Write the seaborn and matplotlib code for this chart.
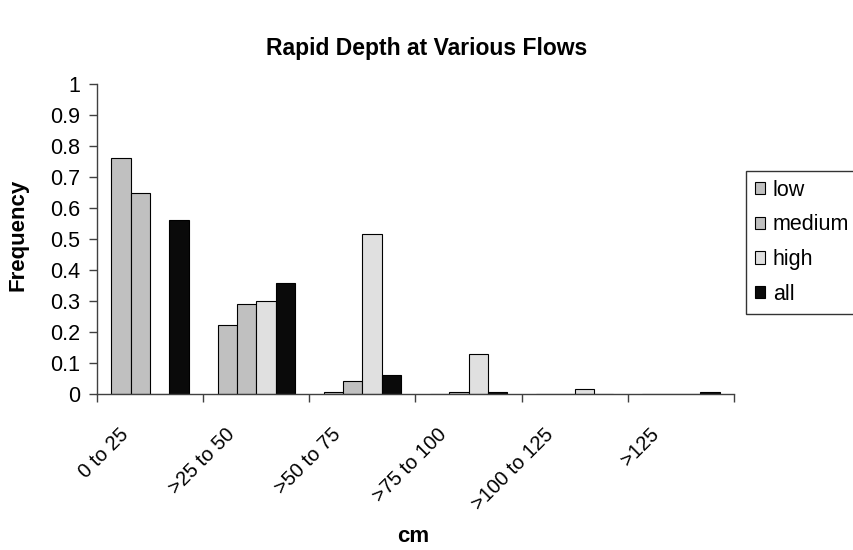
import matplotlib
matplotlib.use("Agg")
import matplotlib.pyplot as plt
import matplotlib.transforms as mtransforms
from matplotlib.patches import Patch
import seaborn as sns
import pandas as pd

# data
rangos = ["0 to 25", ">25 to 50", ">50 to 75", ">75 to 100", ">100 to 125", ">125"]
flujos = ["low", "medium", "high", "all"]
low = [0.76, 0.222, 0.008, 0.0, 0.0, 0.0]
medium = [0.647, 0.29, 0.041, 0.008, 0.0, 0.0]
high = [0.0, 0.301, 0.516, 0.128, 0.015, 0.0]
todos = [0.561, 0.357, 0.062, 0.008, 0.0, 0.008]
colores = ["#c0c0c0", "#c0c0c0", "#e0e0e0", "#0a0a0a"]

filas = []
for flujo, valores in zip(flujos, [low, medium, high, todos]):
    for r, v in zip(rangos, valores):
        filas.append({"rango": r, "flujo": flujo, "freq": v})
df = pd.DataFrame(filas)

sns.set_style("white")
plt.rcParams["font.family"] = ["Liberation Sans", "DejaVu Sans"]
plt.rcParams["text.color"] = "black"
plt.rcParams["xtick.color"] = "black"
plt.rcParams["ytick.color"] = "black"

fig = plt.figure(figsize=(8.54, 5.5), dpi=100)
ax = fig.add_axes([97 / 854, 1 - 394 / 550, 637 / 854, 310 / 550])

sns.barplot(data=df, x="rango", y="freq", hue="flujo", order=rangos, hue_order=flujos,
            palette=colores, width=0.727, edgecolor="black", linewidth=0.8,
            errorbar=None, legend=False, ax=ax)

ax.set_xlim(-0.5, len(rangos) - 0.5)
ax.set_ylim(0, 1)
ax.set_yticks([i / 10 for i in range(11)])
ax.set_yticklabels(["0"] + [f"{i / 10:g}" for i in range(1, 10)] + ["1"])

# tick marks between categories, labels at the centres
ax.set_xticks(range(len(rangos)))
ax.set_xticklabels(rangos, rotation=45, ha="right", va="top")
ax.set_xticks([i - 0.5 for i in range(len(rangos) + 1)], minor=True)
ax.tick_params(axis="x", which="major", length=0, pad=22, labelsize=14.5, labelcolor="black")
ax.tick_params(axis="x", which="minor", length=6, width=1, color="#404040", direction="out", bottom=True)
ax.tick_params(axis="y", length=6, width=1, color="#404040", direction="out", left=True, pad=6,
               labelsize=15.5, labelcolor="black")
desplaza = mtransforms.ScaledTranslation(-18 / 100, 0, fig.dpi_scale_trans)
for lbl in ax.get_xticklabels():
    lbl.set_transform(lbl.get_transform() + desplaza)

for lado in ["top", "right"]:
    ax.spines[lado].set_visible(False)
for lado in ["left", "bottom"]:
    ax.spines[lado].set_color("#404040")
    ax.spines[lado].set_linewidth(1)

ax.set_xlabel("")
ax.set_ylabel("")
fig.text(0.499, 1 - 48 / 550, "Rapid Depth at Various Flows", ha="center", va="center",
         fontsize=16.5, fontweight="bold")
fig.text(413 / 854, 1 - 537 / 550, "cm", ha="center", va="center", fontsize=16, fontweight="bold")
fig.text(18 / 854, 1 - 235 / 550, "Frequency", ha="center", va="center", rotation=90,
         fontsize=16, fontweight="bold")

manijas = [Patch(facecolor=c, edgecolor="black", linewidth=0.8) for c in colores]
ley = fig.legend(manijas, flujos, loc="upper left", bbox_to_anchor=(746 / 854, 1 - 171 / 550),
                 fontsize=15.5, frameon=True, fancybox=False, handlelength=0.5, handleheight=0.5,
                 handletextpad=0.35, labelspacing=0.64, borderpad=0.4, borderaxespad=0)
ley.get_frame().set_edgecolor("black")
ley.get_frame().set_linewidth(1)

fig.savefig("out.png", dpi=100)
